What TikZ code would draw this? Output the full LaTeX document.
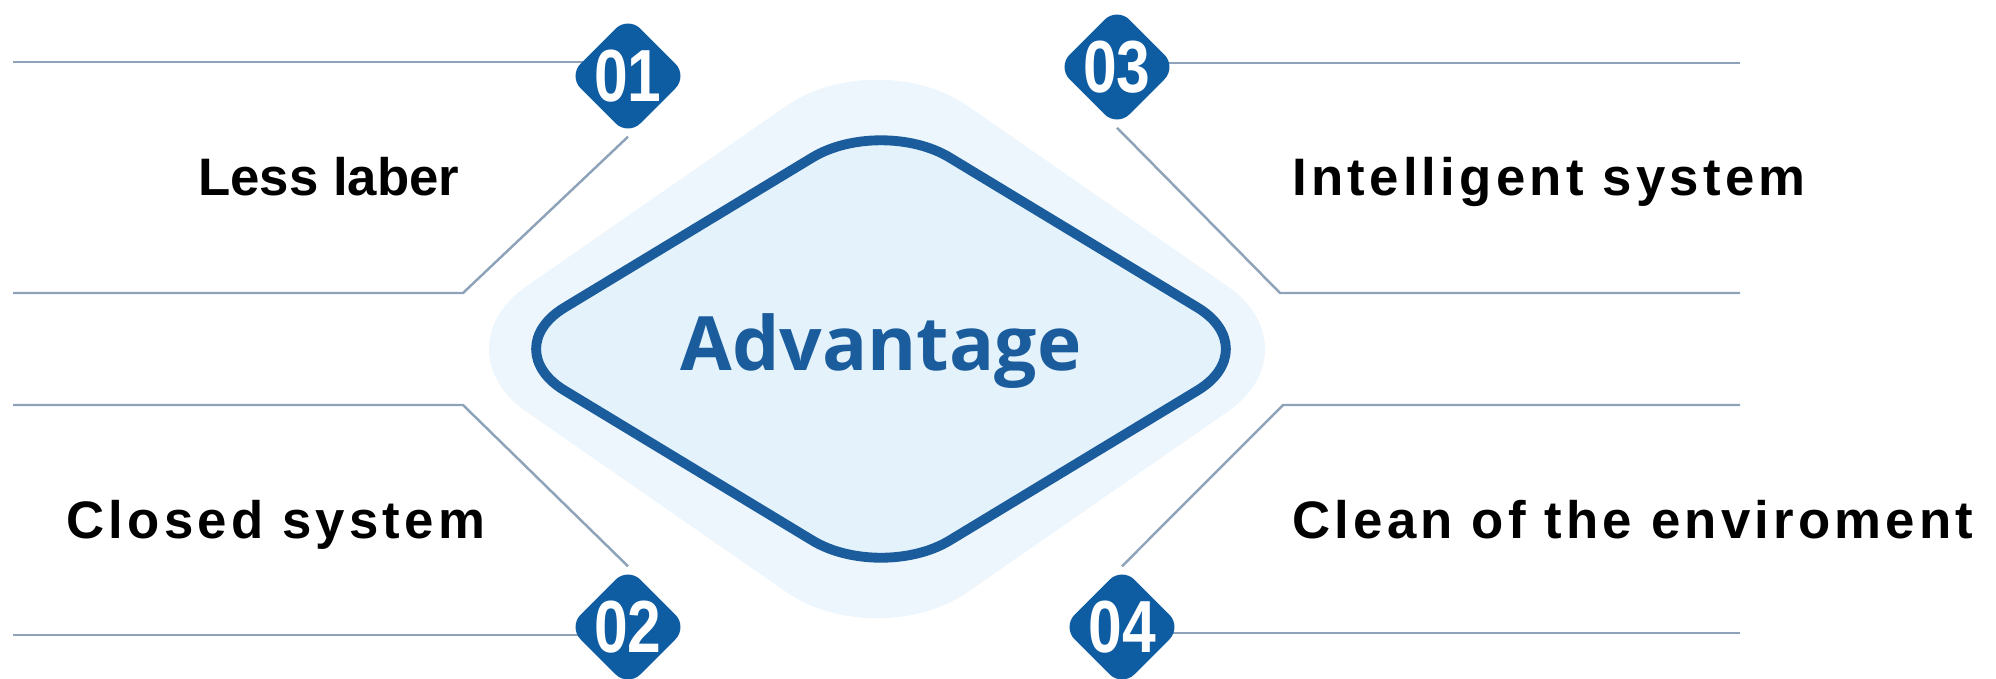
\documentclass[tikz,border=0pt]{standalone}
\usepackage{fontspec}
\setmainfont{Liberation Sans}
\newfontfamily\spacedfont[LetterSpace=8]{Liberation Sans}
\newfontfamily\numfont[FakeStretch=0.82]{Liberation Sans}
\newfontfamily\advfont{Open Sans}
\usepackage{tikz}
\usetikzlibrary{arrows,%
                shapes.geometric,backgrounds}

\definecolor{badgeblue}{HTML}{0E5CA2}
\definecolor{frameblue}{HTML}{1B5D9C}
\definecolor{paleblue}{HTML}{EDF6FD}
\definecolor{innerblue}{HTML}{E4F2FC}
\definecolor{linegray}{HTML}{8EA3BA}

\begin{document}
\begin{tikzpicture}[x=0.01cm,y=-0.01cm,
  badge/.style={diamond,fill=badgeblue,rounded corners=5pt,inner sep=0pt,
    minimum width=1.2cm,minimum height=1.2cm},
  num/.style={text=white,font=\numfont\fontsize{21}{21}\selectfont\bfseries},
  lbl/.style={text=black,font=\fontsize{15}{18}\selectfont\bfseries},
  slbl/.style={text=black,font=\spacedfont\fontsize{15}{18}\selectfont\bfseries},
  wire/.style={draw=linegray,line width=0.7pt}]
\useasboundingbox (0,0) rectangle (1996,678);

\coordinate (lt1) at (13,62);
\coordinate (lc1) at (463,293);
\coordinate (lb1) at (13,293);
\coordinate (lt2) at (13,405);
\coordinate (lc2) at (463,405);
\coordinate (lb2) at (13,635);
\coordinate (rt3) at (1740,63);
\coordinate (rc3) at (1280,293);
\coordinate (rb3) at (1740,293);
\coordinate (rt4) at (1740,405);
\coordinate (rc4) at (1283,405);
\coordinate (rb4) at (1740,633);

\node[badge,label={[num]center:01}] (b01) at (628,76) {};
\node[badge,label={[num]center:02}] (b02) at (628,627) {};
\node[badge,label={[num]center:03}] (b03) at (1117,67) {};
\node[badge,label={[num]center:04}] (b04) at (1122,627) {};

\begin{scope}[on background layer]
% centre diamonds
\fill[paleblue,rounded corners=1.1cm] (436,349) -- (877,43) -- (1318,349) -- (877,655) -- cycle;
\draw[frameblue,fill=innerblue,line width=2.8pt,rounded corners=0.8cm]
  (496,349) -- (881,116) -- (1266,349) -- (881,582) -- cycle;
% lines behind the badges
\draw[wire] (lt1) -- (lt1 -| b01);
\draw[wire] (b01.south) -- (lc1) -- (lb1);
\draw[wire] (b02.north) -- (lc2) -- (lt2);
\draw[wire] (lb2) -- (lb2 -| b02);
\draw[wire] (rt3 -| b03) -- (rt3);
\draw[wire] (b03.south) -- (rc3) -- (rb3);
\draw[wire] (b04.north) -- (rc4) -- (rt4);
\draw[wire] (rb4 -| b04) -- (rb4);
\end{scope}

\node[text=frameblue,font=\advfont\fontsize{21.3}{24}\selectfont\bfseries,anchor=base] (adv) at (881,370) {Advantage};

\node[lbl,anchor=base west] (t01) at (186,195) {Less laber};
\node[slbl,anchor=base west] (t02) at (54,538) {Closed system};
\node[slbl,anchor=base west] (t03) at (1280,195) {Intelligent system};
\node[slbl,anchor=base west] (t04) at (1280,538) {Clean of the enviroment};
\end{tikzpicture}
\end{document}
